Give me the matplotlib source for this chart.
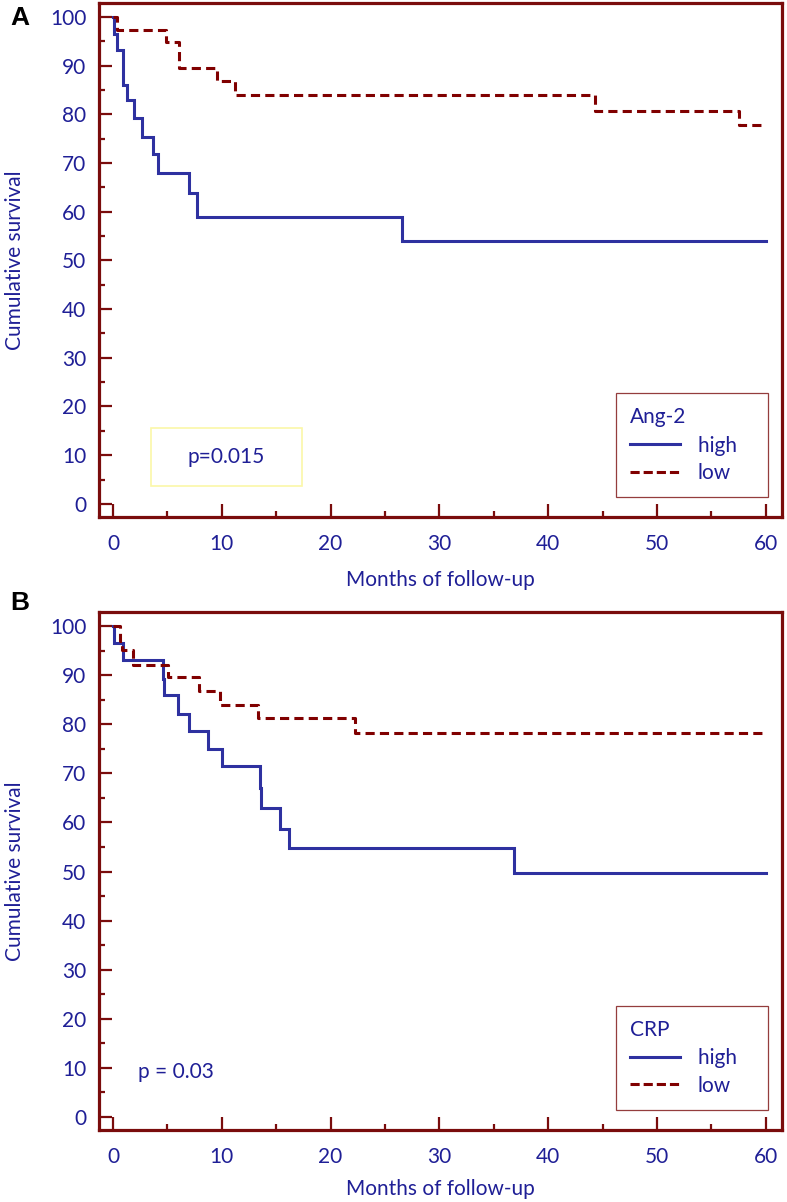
import matplotlib
matplotlib.use("Agg")
import matplotlib.pyplot as plt
from matplotlib.lines import Line2D
from matplotlib.patches import Rectangle
from matplotlib.ticker import MultipleLocator

# Panel A: Ang-2
a_high_t = [0, 0.05, 0.35, 0.95, 1.25, 1.95, 2.65, 3.7, 4.1, 7.0, 7.75, 26.6, 60]
a_high_s = [100, 96.6, 93.2, 86.0, 83.0, 79.3, 75.4, 71.8, 67.9, 63.9, 59.0, 53.9, 53.9]
a_low_t = [0, 0.35, 4.85, 6.05, 9.55, 11.25, 44.3, 57.5, 60]
a_low_s = [100, 97.4, 94.9, 89.5, 86.9, 83.9, 80.8, 77.8, 77.8]

# Panel B: CRP
b_high_t = [0, 0.1, 0.95, 4.55, 4.7, 6.0, 7.0, 8.75, 10.05, 13.5, 13.6, 15.35, 16.2, 36.85, 60]
b_high_s = [100, 96.6, 93.1, 89.3, 85.9, 82.1, 78.6, 74.9, 71.5, 67.1, 62.9, 58.7, 54.7, 49.7, 49.7]
b_low_t = [0, 0.6, 0.8, 1.8, 5.05, 7.9, 9.85, 13.35, 22.25, 60]
b_low_s = [100, 97.0, 95.1, 92.2, 89.6, 86.9, 84.0, 81.4, 78.2, 78.2]

TEXT = "#1f1f96"
BLUE = "#2e31a0"
RED = "#800000"
FRAME = "#7a0c0c"
FS = 15

plt.rcParams["font.family"] = ["Lato", "DejaVu Sans"]

fig = plt.figure(figsize=(7.87, 12.02), dpi=100)
ax_a = fig.add_axes([0.1258, 0.5699, 0.8679, 0.4276])
ax_b = fig.add_axes([0.1258, 0.0599, 0.8679, 0.4309])


def style(ax, xpad):
    ax.set_xlim(-1.29, 61.5)
    ax.set_ylim(-2.7, 102.9)
    for sp in ax.spines.values():
        sp.set_color(FRAME)
        sp.set_linewidth(2.3)
    ax.xaxis.set_major_locator(MultipleLocator(10))
    ax.xaxis.set_minor_locator(MultipleLocator(5))
    ax.yaxis.set_major_locator(MultipleLocator(10))
    ax.yaxis.set_minor_locator(MultipleLocator(5))
    ax.tick_params(which="major", direction="in", length=9.5, width=1.6,
                   color=FRAME, labelcolor=TEXT, labelsize=FS)
    ax.tick_params(which="minor", direction="in", length=4.5, width=1.6,
                   color=FRAME)
    ax.tick_params(axis="x", which="major", pad=12)
    ax.tick_params(axis="y", which="major", pad=9)
    ax.set_xlabel("Months of follow-up", color=TEXT, fontsize=FS, labelpad=xpad)
    ax.set_ylabel("Cumulative survival", color=TEXT, fontsize=FS, labelpad=18)


def draw(ax, ht, hs, lt, ls, name):
    ax.step(ht, hs, where="post", color=BLUE, lw=2.2, solid_joinstyle="miter")
    ax.step(lt, ls, where="post", color=RED, lw=2.2, linestyle=(0, (3, 1.7)))
    handles = [Line2D([], [], color=BLUE, lw=2.2),
               Line2D([], [], color=RED, lw=2.2, linestyle=(0, (3, 1.3)))]
    leg = ax.legend(handles, ["high   ", "low"], title=name, loc="lower right",
                    bbox_to_anchor=(0.979, 0.038), alignment="left",
                    fontsize=FS, title_fontsize=FS, frameon=True,
                    fancybox=False, edgecolor=FRAME, handlelength=2.4,
                    handletextpad=0.85, borderpad=0.7, labelspacing=0.35,
                    borderaxespad=0)
    leg._legend_box.sep = 6
    leg.get_frame().set_linewidth(0.9)
    leg.get_title().set_color(TEXT)
    for t in leg.get_texts():
        t.set_color(TEXT)


style(ax_a, 12)
draw(ax_a, a_high_t, a_high_s, a_low_t, a_low_s, "Ang-2")
ax_a.add_patch(Rectangle((3.5, 3.7), 13.9, 11.9, fill=False,
                         edgecolor="#fbf7a8", lw=1.2))
ax_a.text(10.4, 9.7, "p=0.015", color=TEXT, fontsize=FS,
          ha="center", va="center")

style(ax_b, 9)
draw(ax_b, b_high_t, b_high_s, b_low_t, b_low_s, "CRP")
ax_b.text(5.8, 9.1, "p = 0.03", color=TEXT, fontsize=FS,
          ha="center", va="center")

fig.text(0.013, 0.985, "A", fontsize=19, fontweight="bold",
         family="Liberation Sans", va="center", ha="left")
fig.text(0.013, 0.498, "B", fontsize=19, fontweight="bold",
         family="Liberation Sans", va="center", ha="left")

fig.savefig("out.png", dpi=100)
